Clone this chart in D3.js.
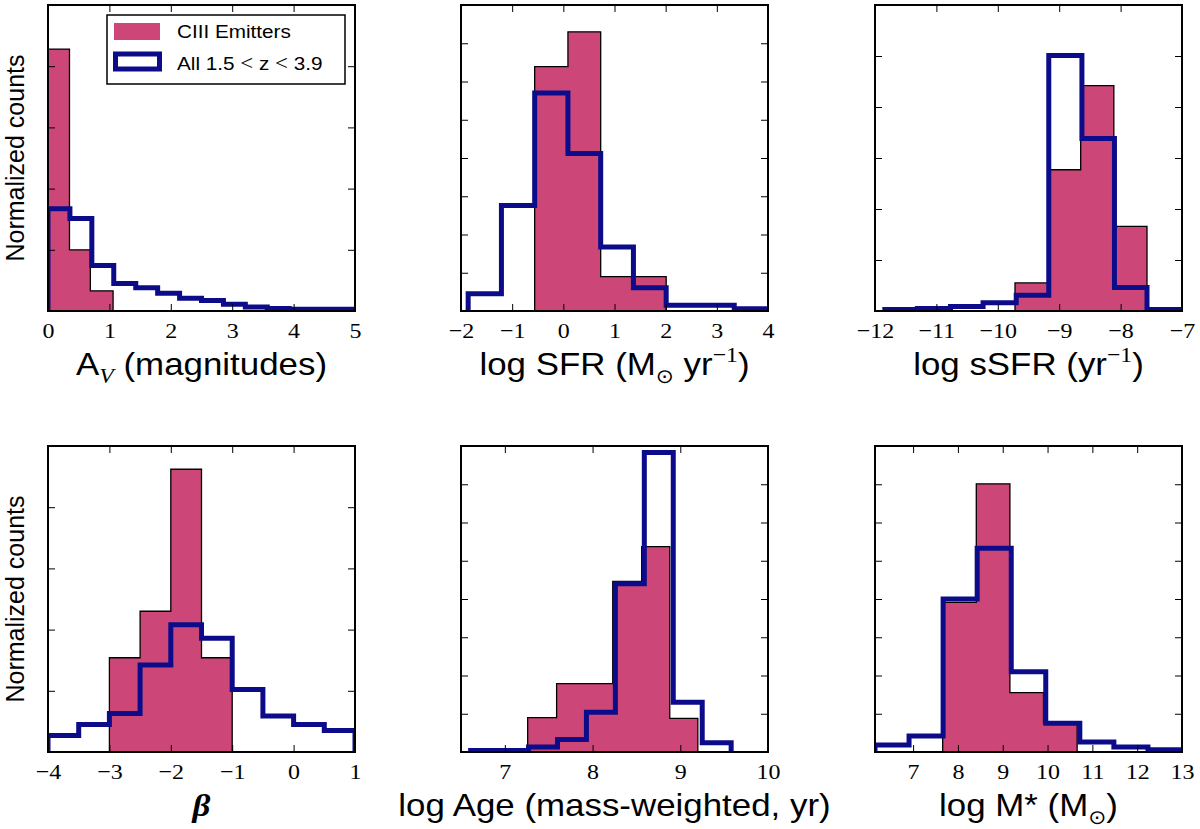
<!DOCTYPE html>
<html>
<head>
<meta charset="utf-8">
<script src="https://cdn.jsdelivr.net/npm/d3@7"></script>
<style>
  body { margin: 0; background: #fff; }
  text { white-space: pre; }
</style>
</head>
<body>
<div id="chart"></div>
<script>
// Heights are in y-tick units (the y tick labels are hidden in the figure).

// A_V
const avCiiiEdges = [0, 0.35, 0.69, 1.06];
const avCiiiCounts = [4.28, 1.0, 0.33];
const avAllEdges = [0, 0.357, 0.714, 1.071, 1.429, 1.786, 2.143, 2.5, 2.857, 3.214, 3.571, 3.929, 4.286, 4.643, 5.0];
const avAllCounts = [1.67, 1.51, 0.745, 0.45, 0.38, 0.29, 0.21, 0.17, 0.11, 0.065, 0.04, 0.03, 0.03, 0.03];

// log SFR
const sfrCiiiEdges = [-0.56, 0.09, 0.73, 1.37, 2.01];
const sfrCiiiCounts = [6.39, 7.30, 0.90, 0.90];
const sfrAllEdges = [-1.86, -1.21, -0.56, 0.09, 0.73, 1.37, 2.01, 2.66, 3.34, 4.0];
const sfrAllCounts = [0.45, 2.76, 5.70, 4.12, 1.67, 0.61, 0.15, 0.15, 0.06];

// log sSFR
const ssfrCiiiEdges = [-9.72, -9.17, -8.65, -8.11, -7.57];
const ssfrCiiiCounts = [0.55, 2.77, 4.42, 1.66];
const ssfrAllEdges = [-11.84, -11.31, -10.77, -10.24, -9.70, -9.17, -8.63, -8.10, -7.57, -7.03];
const ssfrAllCounts = [0.03, 0.05, 0.09, 0.16, 0.31, 5.01, 3.38, 0.46, 0.03];

// beta
const betaCiiiEdges = [-3, -2.5, -2, -1.5, -1];
const betaCiiiCounts = [1.54, 2.30, 4.62, 1.54];
const betaAllEdges = [-4, -3.5, -3, -2.5, -2, -1.5, -1, -0.5, 0, 0.5, 1];
const betaAllCounts = [0.27, 0.45, 0.63, 1.42, 2.08, 1.86, 1.02, 0.59, 0.45, 0.35];

// log Age
const ageCiiiEdges = [7.26, 7.59, 7.91, 8.23, 8.56, 8.88, 9.20];
const ageCiiiCounts = [0.90, 1.79, 1.79, 4.46, 5.37, 0.88];
const ageAllEdges = [6.61, 6.94, 7.27, 7.60, 7.93, 8.26, 8.59, 8.92, 9.25, 9.58];
const ageAllCounts = [0.04, 0.04, 0.13, 0.33, 1.04, 4.40, 7.83, 1.30, 0.24];

// log M*
const massCiiiEdges = [7.66, 8.41, 9.16, 9.91, 10.66];
const massCiiiCounts = [3.91, 7.01, 1.55, 0.75];
const massAllEdges = [6.15, 6.91, 7.67, 8.43, 9.19, 9.96, 10.72, 11.48, 12.24, 13.0];
const massAllCounts = [0.18, 0.42, 4.0, 5.33, 2.10, 0.75, 0.26, 0.13, 0.06];

// axes ranges and tick labels
const xDomains = [[0, 5], [-2, 4], [-12, -7], [-4, 1], [6.5, 10], [6.15, 13]];
const xTickValues = [
    [0, 1, 2, 3, 4, 5],
    [-2, -1, 0, 1, 2, 3, 4],
    [-12, -11, -10, -9, -8, -7],
    [-4, -3, -2, -1, 0, 1],
    [7, 8, 9, 10],
    [7, 8, 9, 10, 11, 12, 13],
];
const yTickCounts = [5, 8, 6, 5, 8, 8];

const legendLabels = ['CIII Emitters', 'All 1.5 < z < 3.9'];
const yLabel = 'Normalized counts';

// label pieces: sub / sup shift, serif for math glyphs
const xLabels = [
    [{ t: 'A' }, { t: 'V', sub: 1, serif: 1, italic: 1 }, { t: ' (magnitudes)' }],
    [{ t: 'log SFR (M' }, { t: '\u2299', sub: 1, sym: 1 }, { t: ' yr' }, { t: '\u22121', sup: 1, serif: 1 }, { t: ')' }],
    [{ t: 'log sSFR (yr' }, { t: '\u22121', sup: 1, serif: 1 }, { t: ')' }],
    [{ t: '\u03b2', serif: 1, bold: 1, italic: 1 }],
    [{ t: 'log Age (mass-weighted, yr)' }],
    [{ t: 'log M* (M' }, { t: '\u2299', sub: 1, sym: 1 }, { t: ')' }],
];

const ciiiSeries = [
    [avCiiiEdges, avCiiiCounts],
    [sfrCiiiEdges, sfrCiiiCounts],
    [ssfrCiiiEdges, ssfrCiiiCounts],
    [betaCiiiEdges, betaCiiiCounts],
    [ageCiiiEdges, ageCiiiCounts],
    [massCiiiEdges, massCiiiCounts],
];
const allSeries = [
    [avAllEdges, avAllCounts],
    [sfrAllEdges, sfrAllCounts],
    [ssfrAllEdges, ssfrAllCounts],
    [betaAllEdges, betaAllCounts],
    [ageAllEdges, ageAllCounts],
    [massAllEdges, massAllCounts],
];

// layout
const width = 1200, height = 829;
const colLeft = [48, 461, 875];
const rowTop = [5, 446];
const panelW = 307, panelH = 306;
const stretch = 1.09; // the printed figure is stretched sideways a little
const ciiiColor = '#cc4778';
const allColor = '#0c0c8a';
const sansFont = '"Liberation Sans", Arial, Helvetica, sans-serif';
const serifFont = '"Liberation Serif", "Times New Roman", serif';

const svg = d3.select('#chart')
    .append('svg')
    .attr('width', width)
    .attr('height', height)
    .attr('viewBox', [0, 0, width, height]);

svg.append('rect').attr('width', width).attr('height', height).attr('fill', '#fff');

// turn bin edges + counts into the outline of a step histogram
function stepPoints(edges, counts) {
    const pts = [[edges[0], 0]];
    counts.forEach((c, i) => {
        pts.push([edges[i], c]);
        pts.push([edges[i + 1], c]);
    });
    pts.push([edges[edges.length - 1], 0]);
    return pts;
}

function drawLabel(g, segs, cx, baseline, size) {
    const t = g.append('text')
        .attr('transform', `translate(${cx},${baseline}) scale(${stretch},1)`)
        .attr('text-anchor', 'middle')
        .attr('font-family', sansFont)
        .attr('font-size', size)
        .attr('fill', '#000');
    let shift = 0;
    segs.forEach((s) => {
        const target = s.sub ? size * 0.26 : s.sup ? -size * 0.4 : 0;
        const ts = t.append('tspan').attr('dy', target - shift).text(s.t);
        shift = target;
        if (s.sub || s.sup) ts.attr('font-size', size * 0.68);
        if (s.serif) ts.attr('font-family', serifFont);
        if (s.sym) ts.attr('font-family', '"DejaVu Sans", sans-serif').attr('font-size', size * 0.62);
        if (s.italic) ts.attr('font-style', 'italic');
        if (s.bold) ts.attr('font-weight', 'bold');
    });
}

d3.range(6).forEach((k) => {
    const col = k % 3, row = Math.floor(k / 3);
    const left = colLeft[col], top = rowTop[row];

    const x = d3.scaleLinear(xDomains[k], [0, panelW]);
    const y = d3.scaleLinear([0, yTickCounts[k]], [panelH, 0]);
    const line = d3.line((d) => x(d[0]), (d) => y(d[1]));

    const g = svg.append('g').attr('transform', `translate(${left},${top})`);

    g.append('clipPath')
        .attr('id', `clip-${k}`)
        .append('rect')
        .attr('width', panelW)
        .attr('height', panelH);

    const plot = g.append('g').attr('clip-path', `url(#clip-${k})`);

    // CIII emitters: filled steps with black edge
    plot.append('path')
        .attr('d', line(stepPoints(...ciiiSeries[k])) + 'Z')
        .attr('fill', ciiiColor)
        .attr('stroke', '#000')
        .attr('stroke-width', 1.3);

    // full sample: thick step outline
    plot.append('path')
        .attr('d', line(stepPoints(...allSeries[k])))
        .attr('fill', 'none')
        .attr('stroke', allColor)
        .attr('stroke-width', 5)
        .attr('stroke-linejoin', 'miter');

    // ticks on all four sides, pointing in
    g.append('g')
        .attr('transform', `translate(0,${panelH})`)
        .call(d3.axisBottom(x).tickValues(xTickValues[k]).tickSize(-7).tickFormat(d3.format('d')))
        .call((a) => a.select('.domain').remove())
        .call((a) =>
            a.selectAll('.tick text')
                .attr('y', 27)
                .attr('dy', 0)
                .attr('font-family', serifFont)
                .attr('font-size', 22)
                .attr('transform', `scale(${stretch},1)`)
        );

    g.append('g')
        .call(d3.axisTop(x).tickValues(xTickValues[k]).tickSize(-7).tickFormat(''))
        .call((a) => a.select('.domain').remove());

    g.append('g')
        .call(d3.axisLeft(y).ticks(yTickCounts[k]).tickSize(-7).tickFormat(''))
        .call((a) => a.select('.domain').remove());

    g.append('g')
        .attr('transform', `translate(${panelW},0)`)
        .call(d3.axisRight(y).ticks(yTickCounts[k]).tickSize(-7).tickFormat(''))
        .call((a) => a.select('.domain').remove());

    g.selectAll('.tick line').attr('stroke', '#000').attr('stroke-width', 1);

    // frame
    g.append('rect')
        .attr('width', panelW)
        .attr('height', panelH)
        .attr('fill', 'none')
        .attr('stroke', '#000')
        .attr('stroke-width', 2);

    drawLabel(g, xLabels[k], panelW / 2, panelH + 64, 32);

    if (col === 0) {
        g.append('text')
            .attr('transform', `translate(${24 - left},${panelH / 2}) rotate(-90)`)
            .attr('text-anchor', 'middle')
            .attr('font-family', sansFont)
            .attr('font-size', 25)
            .text(yLabel);
    }

    // legend in the first panel
    if (k === 0) {
        const lg = svg.append('g');
        lg.append('rect')
            .attr('x', 107).attr('y', 15)
            .attr('width', 238).attr('height', 69)
            .attr('fill', '#fff')
            .attr('stroke', '#000')
            .attr('stroke-width', 1.5);
        lg.append('rect')
            .attr('x', 114).attr('y', 23)
            .attr('width', 46).attr('height', 17)
            .attr('fill', ciiiColor);
        lg.append('rect')
            .attr('x', 115.5).attr('y', 54)
            .attr('width', 44).attr('height', 15)
            .attr('fill', 'none')
            .attr('stroke', allColor)
            .attr('stroke-width', 5);

        lg.append('text')
            .attr('transform', `translate(177,38) scale(${stretch},1)`)
            .attr('font-family', sansFont)
            .attr('font-size', 19)
            .text(legendLabels[0]);

        // the "<" signs are set in the math (serif) font
        const t2 = lg.append('text')
            .attr('transform', `translate(177,70) scale(${stretch},1)`)
            .attr('font-family', sansFont)
            .attr('font-size', 19);
        legendLabels[1].split(/(<)/).forEach((part) => {
            const ts = t2.append('tspan').text(part);
            if (part === '<') ts.attr('font-family', serifFont).attr('font-size', 21);
        });
    }
});
</script>
</body>
</html>
